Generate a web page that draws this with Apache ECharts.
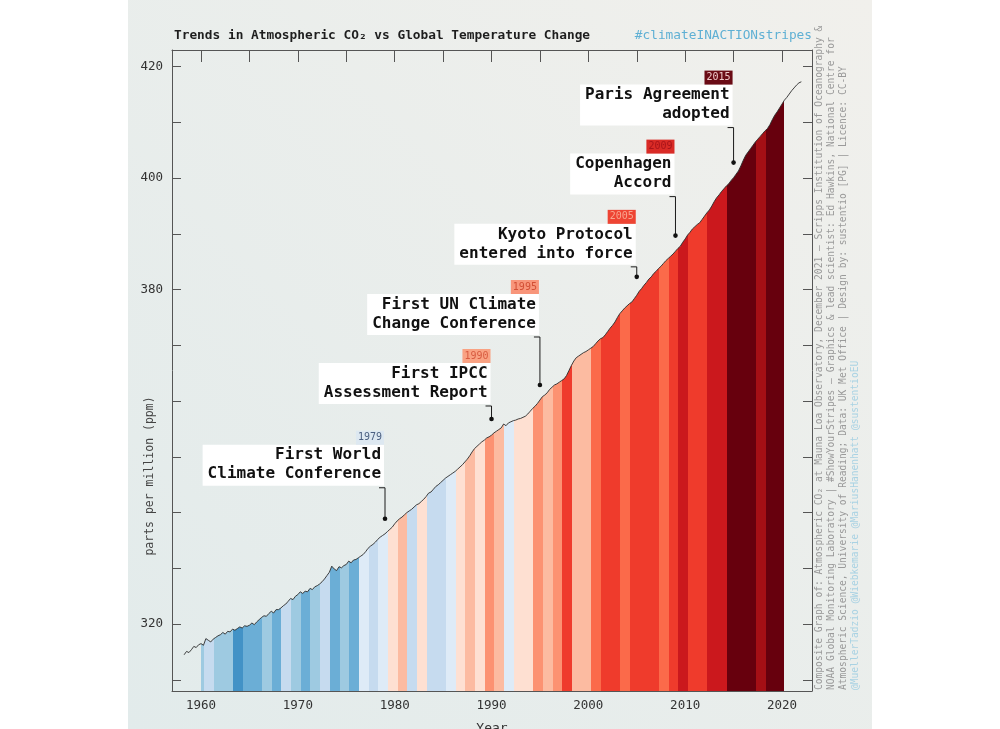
<!DOCTYPE html>
<html>
<head>
<meta charset="utf-8">
<script src="https://cdn.jsdelivr.net/npm/echarts@6/dist/echarts.min.js"></script>
<style>
html,body{margin:0;padding:0;background:#ffffff;}
#c{width:1000px;height:729px;}
</style>
</head>
<body>
<div id="c"></div>
<script>
// ---------- DATA ----------
// Atmospheric CO2 (ppm), quarterly readings starting 1958.25
const co2StartYear = 1958.25;
const co2Step = 0.25;
const co2Ppm = [
  314.5, 315.1, 314.9,
  315.4, 316.0, 315.8, 316.3,
  316.5, 316.2, 317.4, 317.1,
  316.8, 317.3, 317.6, 317.9,
  318.1, 318.5, 318.2, 318.7,
  318.6, 319.1, 318.9, 319.2,
  319.5, 319.3, 319.7, 319.6,
  319.8, 320.2, 319.9, 320.4,
  320.8, 321.2, 321.5, 321.4,
  321.9, 322.3, 322.0, 322.6,
  322.6, 322.9, 323.3, 323.6,
  324.1, 324.6, 324.4, 325.0,
  325.3, 325.8, 325.5, 325.9,
  325.8, 326.4, 326.2, 326.7,
  326.9, 327.2, 327.6, 328.1,
  328.7, 329.3, 330.4, 329.9,
  329.6, 330.3, 330.1, 330.5,
  330.7, 331.3, 331.0, 331.5,
  331.6, 331.9, 332.2, 332.5,
  333.0, 333.6, 334.0, 334.3,
  334.7, 335.2, 335.6, 335.9,
  336.2, 336.6, 337.0, 337.4,
  338.0, 338.5, 338.9, 339.2,
  339.6, 340.0, 340.3, 340.6,
  341.0, 341.4, 341.6, 342.0,
  342.4, 342.9, 343.5, 343.7,
  344.2, 344.7, 345.0, 345.4,
  345.8, 346.2, 346.5, 346.8,
  347.1, 347.4, 347.8, 348.2,
  348.6, 349.1, 349.6, 350.2,
  350.9, 351.5, 351.9, 352.3,
  352.7, 353.0, 353.4, 353.6,
  353.9, 354.3, 354.6, 354.9,
  355.2, 355.9, 355.6, 356.1,
  356.3, 356.5, 356.6, 356.8,
  356.9, 357.1, 357.3, 357.7,
  358.2, 358.7, 359.1, 359.6,
  360.2, 360.8, 361.1, 361.5,
  362.1, 362.5, 362.9, 363.1,
  363.4, 363.7, 364.0, 364.6,
  365.5, 366.4, 367.2, 367.8,
  368.1, 368.4, 368.7, 368.9,
  369.2, 369.5, 369.8, 370.3,
  370.8, 371.2, 371.4, 371.9,
  372.5, 373.1, 373.6, 374.2,
  375.0, 375.7, 376.2, 376.7,
  377.1, 377.5, 377.8, 378.4,
  379.0, 379.7, 380.2, 380.8,
  381.3, 381.9, 382.3, 382.9,
  383.3, 383.8, 384.2, 384.7,
  385.2, 385.6, 386.0, 386.4,
  386.9, 387.4, 387.8, 388.5,
  389.1, 389.8, 390.3, 390.9,
  391.3, 391.7, 392.0, 392.6,
  393.2, 393.8, 394.3, 395.0,
  395.8, 396.5, 397.0, 397.6,
  398.1, 398.6, 399.0, 399.6,
  400.1, 400.7, 401.3, 402.2,
  403.2, 404.1, 404.7, 405.3,
  405.9, 406.5, 407.0, 407.5,
  408.0, 408.5, 408.9, 409.6,
  410.5, 411.3, 411.9, 412.6,
  413.3, 414.0, 414.5, 415.1,
  415.7, 416.2, 416.7, 417.1,
  417.3
];

// Warming stripes: one colour per year, 1960 ... 2020
const stripeFirstYear = 1960;
const stripeColors = [
  '#9ecae1','#c6dbef','#9ecae1','#9ecae1','#4292c6','#6baed6','#6baed6','#9ecae1','#6baed6','#c6dbef',
  '#9ecae1','#6baed6','#9ecae1','#c6dbef','#6baed6','#9ecae1','#6baed6','#deebf7','#c6dbef','#deebf7',
  '#fee0d2','#fcbba1','#c6dbef','#fee0d2','#c6dbef','#c6dbef','#deebf7','#fee0d2','#fcbba1','#fee0d2',
  '#fc9272','#fcbba1','#deebf7','#fee0d2','#fee0d2','#fc9272','#fcbba1','#fc9272','#ef3b2c','#fcbba1',
  '#fcbba1','#fb6a4a','#ef3b2c','#ef3b2c','#fb6a4a','#ef3b2c','#ef3b2c','#ef3b2c','#fb6a4a','#ef3b2c',
  '#cb181d','#ef3b2c','#ef3b2c','#cb181d','#cb181d','#67000d','#67000d','#67000d','#a50f15','#67000d',
  '#67000d'
];

// Milestones
const eventYears = [1979, 1990, 1995, 2005, 2009, 2015];
const eventPpm = [338.9, 356.8, 362.9, 382.3, 389.7, 402.8];
const eventTitles = [
  'First World\nClimate Conference',
  'First IPCC\nAssessment Report',
  'First UN Climate\nChange Conference',
  'Kyoto Protocol\nentered into force',
  'Copenhagen\nAccord',
  'Paris Agreement\nadopted'
];

// Axis ticks / labels
const xTickValues = [1960,1965,1970,1975,1980,1985,1990,1995,2000,2005,2010,2015,2020];
const xLabelValues = [1960,1970,1980,1990,2000,2010,2020];
const yTickValues = [310,320,330,340,350,360,370,380,390,400,410,420];
const yLabelValues = [320,380,400,420];

// ---------- STYLE / LAYOUT ----------
const MONO = '"DejaVu Sans Mono", monospace';
const xMin = 1957, xMax = 2023.1, yMin = 308, yMax = 423;
const stripeStart = 1960, stripeEnd = 2020.17, stripeShift = 0.3;
const eventLeader = [31, 13, 48, 10, 39, 35];
const eventTagBg = ['#dde8f1', '#f9a283', '#f8957a', '#ee4433', '#d92b26', '#6a0b15'];
const eventTagFg = ['#4a5f80', '#d85b40', '#d24f35', '#f8a58f', '#a8141a', '#efc9c9'];

const co2Data = co2Ppm.map((v, i) => [co2StartYear + i * co2Step, v]);
const eventData = eventYears.map((y, i) => [y, eventPpm[i]]);

const chart = echarts.init(document.getElementById('c'), null, {renderer: 'canvas'});

function axisCommon() {
  return {
    type: 'value',
    axisLine: {show: true, onZero: false, lineStyle: {color: '#555', width: 1}},
    splitLine: {show: false}
  };
}

const option = {
  animation: false,
  backgroundColor: '#ffffff',
  grid: {left: 172, right: 188, top: 50, bottom: 38, containLabel: false, outerBoundsMode: 'none'},
  graphic: [
    {
      type: 'rect', z: -100, silent: true,
      shape: {x: 128, y: 0, width: 744, height: 729},
      style: {fill: new echarts.graphic.LinearGradient(1, 0, 0, 1, [
        {offset: 0, color: '#f1f0ec'},
        {offset: 1, color: '#e2ebeb'}
      ])}
    },
    {
      type: 'text', x: 174, y: 36,
      style: {text: 'Trends in Atmospheric CO\u2082 vs Global Temperature Change', font: 'bold 12.8px ' + MONO, fill: '#1e1e1e', verticalAlign: 'middle'}
    },
    {
      type: 'text', x: 812, y: 36,
      style: {text: '#climateINACTIONstripes', font: '12.8px ' + MONO, fill: '#5fb0d4', align: 'right', verticalAlign: 'middle'}
    },
    {
      type: 'text', x: 150, y: 476, rotation: Math.PI / 2,
      style: {text: 'parts per million (ppm)', font: '11.5px ' + MONO, fill: '#444', align: 'center', verticalAlign: 'middle'}
    },
    {
      type: 'text', x: 819, y: 690, rotation: Math.PI / 2,
      style: {text: 'Composite Graph of: Atmospheric CO\u2082 at Mauna Loa Observatory, December 2021 \u2013 Scripps Institution of Oceanography &', font: '9.6px ' + MONO, fill: '#9a9a9a', align: 'left', verticalAlign: 'middle'}
    },
    {
      type: 'text', x: 831, y: 690, rotation: Math.PI / 2,
      style: {text: 'NOAA Global Monitoring Laboratory | #ShowYourStripes \u2013 Graphics & lead scientist: Ed Hawkins, National Centre for', font: '9.6px ' + MONO, fill: '#9a9a9a', align: 'left', verticalAlign: 'middle'}
    },
    {
      type: 'text', x: 843, y: 690, rotation: Math.PI / 2,
      style: {text: 'Atmospheric Science, University of Reading; Data: UK Met Office | Design by: sustentio [PG] | Licence: CC-BY', font: '9.6px ' + MONO, fill: '#9a9a9a', align: 'left', verticalAlign: 'middle'}
    },
    {
      type: 'text', x: 855, y: 690, rotation: Math.PI / 2,
      style: {text: '@MuellerTadzio @Wiebkemarie @MariusHanenhatt @sustentioEU', font: '9.6px ' + MONO, fill: '#a9d2e3', align: 'left', verticalAlign: 'middle'}
    }
  ],
  xAxis: [
    Object.assign(axisCommon(), {
      position: 'bottom', min: xMin, max: xMax,
      axisTick: {show: true, inside: true, length: 12, customValues: xTickValues, lineStyle: {color: '#555'}},
      axisLabel: {show: true, customValues: xLabelValues, margin: 8, color: '#333', fontFamily: MONO, fontSize: 12.5,
        formatter: v => String(v)},
      name: 'Year', nameLocation: 'middle', nameGap: 31,
      nameTextStyle: {color: '#333', fontFamily: MONO, fontSize: 13}
    }),
    Object.assign(axisCommon(), {
      position: 'top', min: xMin, max: xMax,
      axisTick: {show: true, inside: true, length: 12, customValues: xTickValues, lineStyle: {color: '#555'}},
      axisLabel: {show: false}
    })
  ],
  yAxis: [
    Object.assign(axisCommon(), {
      position: 'left', min: yMin, max: yMax,
      axisTick: {show: true, inside: true, length: 9, customValues: yTickValues, lineStyle: {color: '#555'}},
      axisLabel: {show: true, customValues: yLabelValues, margin: 9, color: '#333', fontFamily: MONO, fontSize: 12.5,
        formatter: v => String(v)}
    }),
    Object.assign(axisCommon(), {
      position: 'right', min: yMin, max: yMax,
      axisTick: {show: true, inside: true, length: 9, customValues: yTickValues, lineStyle: {color: '#555'}},
      axisLabel: {show: false}
    })
  ],
  series: [
    {
      id: 'co2', type: 'line', xAxisIndex: 0, yAxisIndex: 0,
      data: co2Data, symbol: 'none', smooth: false, z: 3,
      lineStyle: {color: '#2b2b2b', width: 0.9},
      areaStyle: {origin: 'start', opacity: 1, color: 'rgba(0,0,0,0)'}
    },
    {
      id: 'events', type: 'custom', xAxisIndex: 0, yAxisIndex: 0,
      coordinateSystem: 'cartesian2d', clip: false, z: 10,
      data: eventData,
      renderItem: function (params, api) {
        const i = params.dataIndex;
        const p = api.coord([api.value(0), api.value(1)]);
        const ay = p[1] - eventLeader[i];
        const boxBottom = ay - 2;
        const boxH = 41;
        return {
          type: 'group',
          children: [
            {type: 'polyline', shape: {points: [[p[0] - 6, ay], [p[0], ay], [p[0], p[1]]]},
              style: {stroke: '#1a1a1a', lineWidth: 1, fill: 'none'}},
            {type: 'circle', shape: {cx: p[0], cy: p[1], r: 2.3}, style: {fill: '#111'}},
            {type: 'text', x: p[0] - 1, y: boxBottom,
              style: {text: eventTitles[i], font: 'bold 16px ' + MONO, fill: '#111', align: 'right', verticalAlign: 'bottom',
                backgroundColor: '#ffffff', padding: [1, 3, 2, 5], lineHeight: 19}},
            {type: 'text', x: p[0] - 1, y: boxBottom - boxH,
              style: {text: String(eventYears[i]), font: '10px ' + MONO, fill: eventTagFg[i], align: 'right', verticalAlign: 'bottom',
                backgroundColor: eventTagBg[i], padding: [1, 2, 1, 2], lineHeight: 12}}
          ]
        };
      }
    }
  ]
};

chart.setOption(option);

// Build the stripe fill along the x axis using the chart's own scale
const pA = chart.convertToPixel({xAxisIndex: 0}, xMin);
const pB = chart.convertToPixel({xAxisIndex: 0}, xMax);
function off(v) { return Math.min(1, Math.max(0, (v - xMin) / (xMax - xMin))); }
const clear = 'rgba(0,0,0,0)';
const stops = [{offset: 0, color: clear}, {offset: off(stripeStart), color: clear}];
for (let i = 0; i < stripeColors.length; i++) {
  const yr = stripeFirstYear + i;
  const a = Math.max(stripeStart, yr - 1 + stripeShift);
  const b = Math.min(stripeEnd, yr + stripeShift);
  stops.push({offset: off(a), color: stripeColors[i]});
  stops.push({offset: off(b), color: stripeColors[i]});
}
stops.push({offset: off(stripeEnd), color: clear});
stops.push({offset: 1, color: clear});

chart.setOption({
  series: [{
    id: 'co2',
    areaStyle: {origin: 'start', opacity: 1,
      color: new echarts.graphic.LinearGradient(pA, 0, pB, 0, stops, true)}
  }]
});
</script>
</body>
</html>
